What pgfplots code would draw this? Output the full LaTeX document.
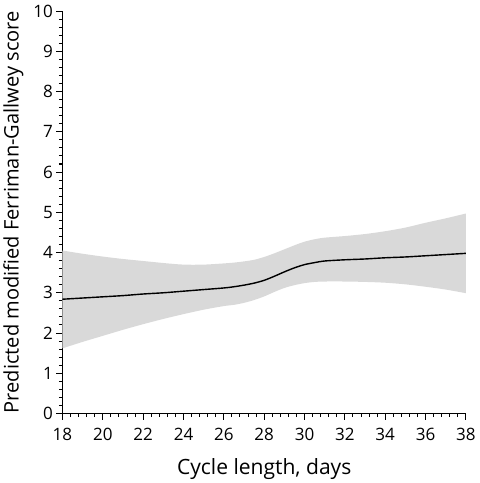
\documentclass[border=0pt]{standalone}
\usepackage{pgfplots}
\pgfplotsset{compat=1.18}
\usepgfplotslibrary{fillbetween}
\usepackage{fontspec}
\setmainfont{Open Sans}
\definecolor{bandgray}{RGB}{217,217,217}

% Predicted score with 95% confidence band
\pgfplotstableread{
x     fit   lo    hi
18    2.84  1.62  4.05
19    2.87  1.78  3.97
20    2.90  1.93  3.90
21    2.93  2.08  3.84
22    2.97  2.22  3.79
23    3.00  2.35  3.74
24    3.04  2.47  3.70
25    3.08  2.58  3.70
26    3.12  2.67  3.73
26.5  3.15  2.70  3.75
27    3.19  2.75  3.78
27.5  3.24  2.82  3.82
28    3.31  2.91  3.89
28.5  3.41  3.02  3.98
29    3.52  3.12  4.08
29.5  3.62  3.19  4.18
30    3.70  3.24  4.27
30.5  3.75  3.27  4.33
31    3.79  3.28  4.37
32    3.82  3.28  4.41
33    3.84  3.27  4.46
34    3.87  3.25  4.53
35    3.89  3.21  4.62
36    3.92  3.15  4.74
37    3.95  3.08  4.85
38    3.98  2.99  4.97
}\curve

\begin{document}
\begin{tikzpicture}
\begin{axis}[
  scale only axis,
  width=401bp, height=400bp,
  xmin=18, xmax=38, ymin=0, ymax=10,
  axis x line*=bottom, axis y line*=left,
  axis line style={line width=1.2pt},
  xtick={18,20,...,38}, ytick={0,1,...,10},
  minor x tick num=4, minor y tick num=4,
  tick align=outside,
  major tick length=6bp, minor tick length=3.5bp,
  every tick/.style={black, line width=1pt},
  tick label style={font=\fontsize{17}{20}\selectfont},
  xticklabel style={yshift=-5bp},
  /pgf/number format/assume math mode=true,
  xlabel={Cycle length, days},
  ylabel={Predicted modified Ferriman-Gallwey score},
  xlabel style={font=\fontsize{21}{24}\selectfont, yshift=-11bp},
  ylabel style={font=\fontsize{20}{24}\selectfont, yshift=3bp},
  clip=false,
]
\addplot[name path=hi, draw=none, smooth] table[x=x, y=hi] {\curve};
\addplot[name path=lo, draw=none, smooth] table[x=x, y=lo] {\curve};
\addplot[bandgray, draw=none] fill between[of=hi and lo];
\addplot[black, line width=1.4pt, smooth] table[x=x, y=fit] {\curve};
\end{axis}
% white space above the plot area
\path (0,411bp);
\end{tikzpicture}
\end{document}
